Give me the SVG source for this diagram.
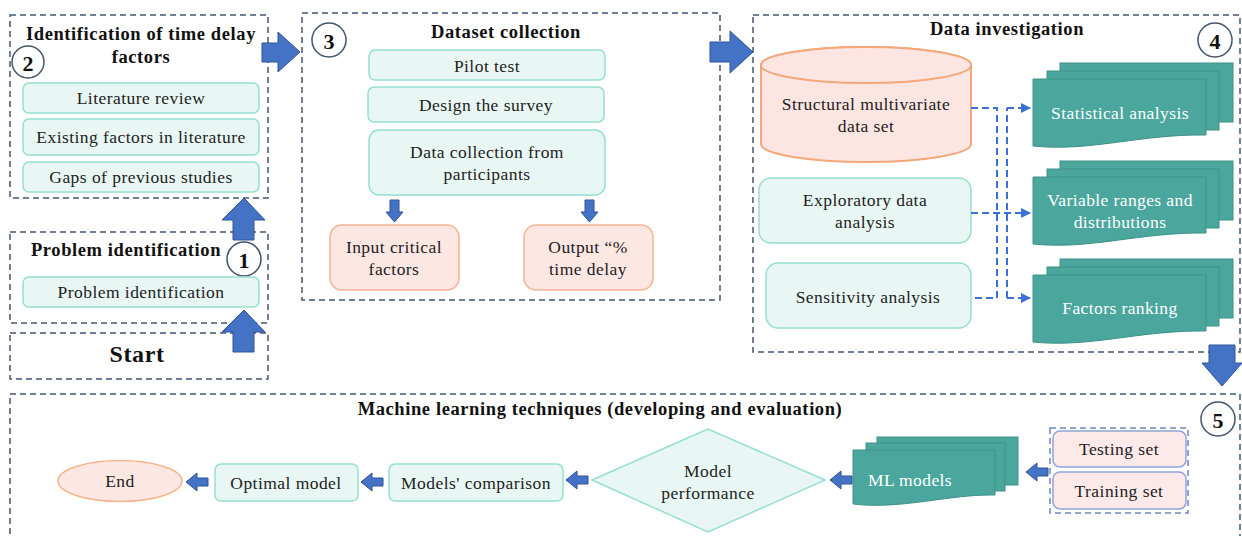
<svg xmlns="http://www.w3.org/2000/svg" width="1242" height="536" viewBox="0 0 1242 536" font-family="'Liberation Serif', 'DejaVu Serif', serif">
<style>
.bg{fill:#ffffff}
.frame{fill:none;stroke:#465673;stroke-width:1.5;stroke-dasharray:6 4}
.mint{fill:#e9f7f4;stroke:#95dfcf;stroke-width:1.5}
.pink{fill:#fde7e3;stroke:#f5b48e;stroke-width:1.5}
.pinkb{fill:#fde9e9;stroke:#8ea5d8;stroke-width:1.5}
.doc{fill:#4ba79e;stroke:#3f9188;stroke-width:1}
.num{fill:#ffffff;stroke:#44546a;stroke-width:1.5}
.t{font-size:17.5px;letter-spacing:0.45px;fill:#222;text-anchor:middle;dominant-baseline:central}
.tw{font-size:17.5px;letter-spacing:0.4px;fill:#ffffff;text-anchor:middle;dominant-baseline:central}
.h{font-size:18.5px;letter-spacing:0.6px;font-weight:bold;fill:#111;text-anchor:middle;dominant-baseline:central}
.n{font-size:22px;font-weight:bold;fill:#111;text-anchor:middle;dominant-baseline:central}
.blk{fill:#4472c4;stroke:#2f5597;stroke-width:1}
.dl{fill:none;stroke:#3b6fd4;stroke-width:2;stroke-dasharray:7 4}
</style>
<defs>
<marker id="ah" viewBox="0 0 10 10" refX="9" refY="5" markerWidth="5" markerHeight="5" orient="auto">
<path d="M0,0 L10,5 L0,10 Z" fill="#3b6fd4"/>
</marker>
</defs>
<rect class="bg" x="0" y="0" width="1242" height="536"/>

<!-- Step 2 -->
<g id="step2">
<rect class="frame" x="10" y="15" width="258" height="183"/>
<text class="h" x="141" y="34">Identification of time delay</text>
<text class="h" x="141" y="57">factors</text>
<circle class="num" cx="28" cy="62" r="16"/>
<text class="n" x="28" y="63">2</text>
</g>
<g id="lit-review"><rect class="mint" x="23" y="83" width="236" height="30" rx="6"/><text class="t" x="141" y="98">Literature review</text></g>
<g id="existing-factors"><rect class="mint" x="23" y="119" width="236" height="36" rx="6"/><text class="t" x="141" y="137">Existing factors in literature</text></g>
<g id="gaps"><rect class="mint" x="23" y="162" width="236" height="30" rx="6"/><text class="t" x="141" y="177">Gaps of previous studies</text></g>

<!-- Step 1 -->
<g id="step1">
<rect class="frame" x="10" y="232" width="258" height="91"/>
<text class="h" x="126" y="250">Problem identification</text>
<circle class="num" cx="244" cy="259" r="17"/>
<text class="n" x="244" y="260">1</text>
</g>
<g id="problem-id"><rect class="mint" x="23" y="277" width="236" height="30" rx="6"/><text class="t" x="141" y="292">Problem identification</text></g>

<!-- Start -->
<g id="start">
<rect class="frame" x="10" y="333" width="258" height="46"/>
<text class="h" x="137" y="354" style="font-size:24px">Start</text>
</g>

<!-- Step 3 -->
<g id="step3">
<rect class="frame" x="302" y="13" width="418" height="287"/>
<text class="h" x="506" y="32">Dataset collection</text>
<circle class="num" cx="329" cy="40" r="17"/>
<text class="n" x="329" y="41">3</text>
</g>
<g id="pilot"><rect class="mint" x="369" y="50" width="236" height="30" rx="6"/><text class="t" x="487" y="66">Pilot test</text></g>
<g id="design"><rect class="mint" x="368" y="87" width="236" height="35" rx="6"/><text class="t" x="486" y="105">Design the survey</text></g>
<g id="data-collection"><rect class="mint" x="369" y="130" width="236" height="65" rx="10"/><text class="t" x="487" y="152">Data collection from</text><text class="t" x="487" y="174">participants</text></g>
<g id="input"><rect class="pink" x="330" y="225" width="129" height="65" rx="12"/><text class="t" x="394" y="247">Input critical</text><text class="t" x="394" y="269">factors</text></g>
<g id="output"><rect class="pink" x="524" y="225" width="129" height="65" rx="12"/><text class="t" x="588" y="247">Output “%</text><text class="t" x="588" y="269">time delay</text></g>

<!-- Step 4 -->
<g id="step4">
<rect class="frame" x="753" y="15" width="487" height="337"/>
<text class="h" x="1007" y="29">Data investigation</text>
<circle class="num" cx="1215" cy="40" r="17"/>
<text class="n" x="1215" y="41">4</text>
</g>
<g id="dataset">
<path d="M761,65 V144 A105,18 0 0 0 971,144 V65 A105,18 0 0 0 761,65 Z" fill="#fde5e2" stroke="#f4a77a" stroke-width="2"/>
<ellipse cx="866" cy="65" rx="105" ry="18" fill="#fde5e2" stroke="#f4a77a" stroke-width="2"/>
<text class="t" x="866" y="104">Structural multivariate</text>
<text class="t" x="866" y="126">data set</text>
</g>
<g id="eda"><rect class="mint" x="759" y="178" width="212" height="65" rx="12"/><text class="t" x="865" y="200">Exploratory data</text><text class="t" x="865" y="222">analysis</text></g>
<g id="sensitivity"><rect class="mint" x="766" y="263" width="205" height="65" rx="12"/><text class="t" x="868" y="297">Sensitivity analysis</text></g>

<g id="statistical">
<rect class="doc" x="1060" y="63" width="173" height="59"/>
<rect class="doc" x="1047" y="71" width="172" height="59"/>
<path class="doc" d="M1033,79 H1206 V135 C1140,134 1090,152 1033,146 Z"/>
<text class="tw" x="1120" y="113">Statistical analysis</text>
</g>
<g id="ranges">
<rect class="doc" x="1060" y="161" width="173" height="59"/>
<rect class="doc" x="1047" y="169" width="172" height="59"/>
<path class="doc" d="M1033,177 H1206 V233 C1140,232 1090,250 1033,244 Z"/>
<text class="tw" x="1120" y="200">Variable ranges and</text>
<text class="tw" x="1120" y="222">distributions</text>
</g>
<g id="ranking">
<rect class="doc" x="1060" y="259" width="173" height="59"/>
<rect class="doc" x="1047" y="267" width="172" height="59"/>
<path class="doc" d="M1033,275 H1206 V331 C1140,330 1090,348 1033,342 Z"/>
<text class="tw" x="1120" y="308">Factors ranking</text>
</g>

<!-- Step 5 -->
<g id="step5">
<rect class="frame" x="10" y="394" width="1230" height="160"/>
<text class="h" x="600" y="409">Machine learning techniques (developing and evaluation)</text>
<circle class="num" cx="1218" cy="419" r="17"/>
<text class="n" x="1218" y="420">5</text>
</g>
<g id="end"><ellipse cx="120" cy="481" rx="62" ry="20.5" fill="#fde7e3" stroke="#f5b48e" stroke-width="1.5"/><text class="t" x="120" y="481">End</text></g>
<g id="optimal"><rect class="mint" x="215" y="464" width="143" height="37" rx="6"/><text class="t" x="286" y="483">Optimal model</text></g>
<g id="comparison"><rect class="mint" x="389" y="464" width="174" height="37" rx="6"/><text class="t" x="476" y="483">Models' comparison</text></g>
<g id="performance"><polygon points="592,480 708,429 825,480 708,532" fill="#e9f7f4" stroke="#95dfcf" stroke-width="1.5"/><text class="t" x="708" y="471">Model</text><text class="t" x="708" y="493">performance</text></g>
<g id="ml-models">
<rect class="doc" x="877" y="437" width="141" height="48"/>
<rect class="doc" x="866" y="443" width="139" height="48"/>
<path class="doc" d="M853,450 H995 V495 C950,494 900,510 853,504 Z"/>
<text class="tw" x="910" y="480">ML models</text>
</g>
<g id="sets">
<rect x="1050" y="428" width="138" height="85" fill="none" stroke="#6f86c0" stroke-width="1.5" stroke-dasharray="6 4"/>
<rect class="pinkb" x="1053" y="431" width="133" height="36" rx="7"/><text class="t" x="1119" y="449">Testing set</text>
<rect class="pinkb" x="1053" y="472" width="133" height="37" rx="7"/><text class="t" x="1119" y="491">Training set</text>
</g>

<!-- connectors -->
<g id="connectors">
<path class="blk" d="M262,43 H278 V32 L300,52 L278,72 V62 H262 Z"/>
<path class="blk" d="M710,42 H730 V31 L753,52 L730,73 V62 H710 Z"/>
<path class="blk" d="M233,240 V220 H222 L244,198 L265,220 H254 V240 Z"/>
<path class="blk" d="M233,352 V332 H222 L244,310 L265,332 H254 V352 Z"/>
<path class="blk" d="M1209,345 H1235 V363 H1242 L1222,386 L1202,363 H1209 Z"/>
<path class="blk" d="M390,200 H399 V212 H403 L394.5,222 L386,212 H390 Z"/>
<path class="blk" d="M585,200 H594 V212 H598 L589.5,222 L581,212 H585 Z"/>
<path class="blk" d="M208,478 V486 H197 V491 L186,482 L197,473 V478 Z"/>
<path class="blk" d="M383,478 V486 H372 V491 L361,482 L372,473 V478 Z"/>
<path class="blk" d="M588,476 V484 H577 V489 L566,480 L577,471 V476 Z"/>
<path class="blk" d="M852,476 V484 H841 V489 L830,480 L841,471 V476 Z"/>
<path class="blk" d="M1048,468 V476 H1037 V481 L1026,472 L1037,463 V468 Z"/>
<path class="dl" d="M971,108 H997 V298 H971"/>
<path class="dl" d="M1007,298 V108"/>
<path class="dl" d="M1007,108 H1030" marker-end="url(#ah)"/>
<path class="dl" d="M971,213 H1030" marker-end="url(#ah)"/>
<path class="dl" d="M1007,298 H1030" marker-end="url(#ah)"/>
</g>
</svg>
